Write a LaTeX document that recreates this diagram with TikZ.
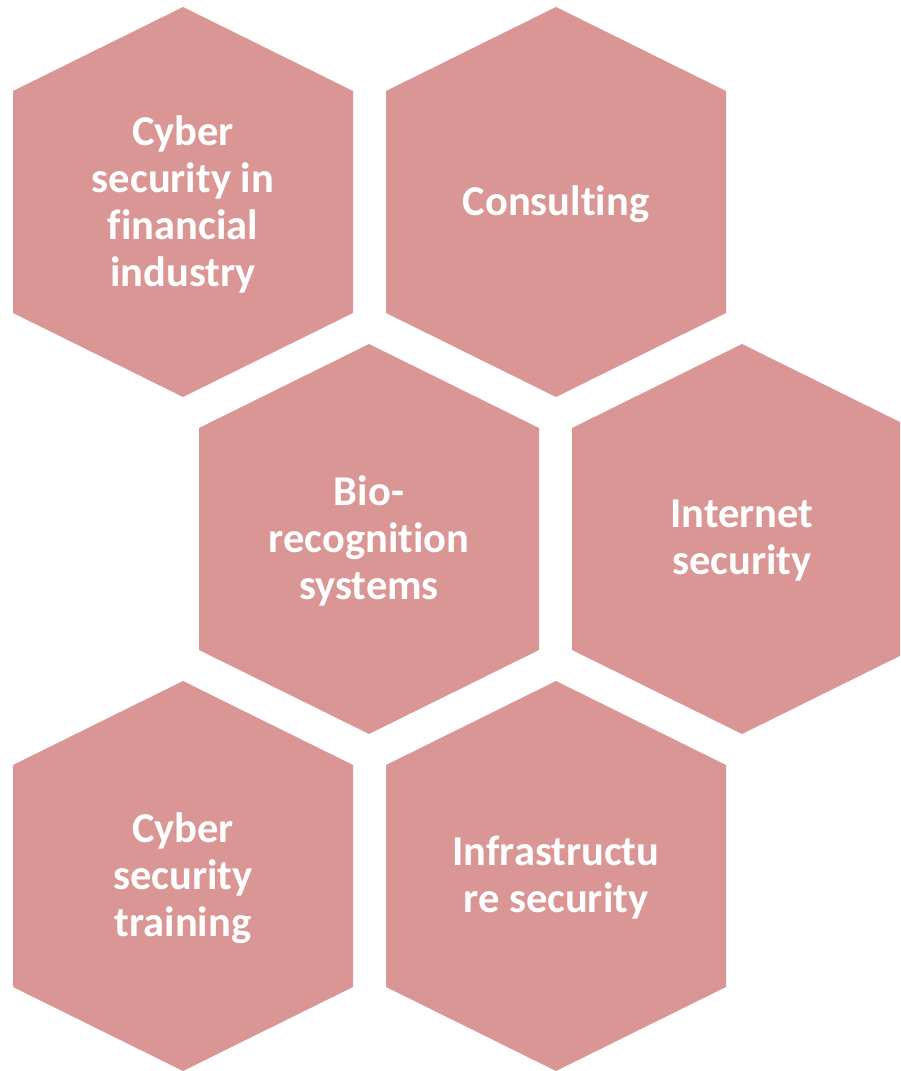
\documentclass[tikz,border=0pt]{standalone}
\usepackage{fontspec}
\setmainfont{Carlito}[RawFeature={-liga;-clig;-calt;-dlig;-rlig}]

\definecolor{hexfill}{HTML}{D99694}
\tikzset{
	celda/.style={fill=hexfill, draw=none},
	etiqueta/.style={text=white, font=\bfseries\fontsize{42.5}{47}\selectfont, align=center, inner sep=0pt, yshift=-2pt},
}

\begin{document}
\begin{tikzpicture}[x=1pt, y=1pt]
		% Marco
		\clip (0,0) rectangle (900,1071);
		
		% Celdas
		\foreach \cx/\cy/\nombre/\texto in {
			183/869/financiera/{Cyber\\security in\\financial\\industry},
			556/869/consultoria/{Consulting},
			369/532/bio/{Bio-\\recognition\\systems},
			742/532/internet/{Internet\\security},
			183/195/formacion/{Cyber\\security\\training},
			556/195/infra/{Infrastructu\\re security}}{
			\fill[celda] (\cx,\cy) ++(0,195) -- ++(170,-84) -- ++(0,-222) -- ++(-170,-84) -- ++(-170,84) -- ++(0,222) -- cycle;
			\node[etiqueta] (\nombre) at (\cx,\cy) {\texto};}
	\end{tikzpicture}
\end{document}
